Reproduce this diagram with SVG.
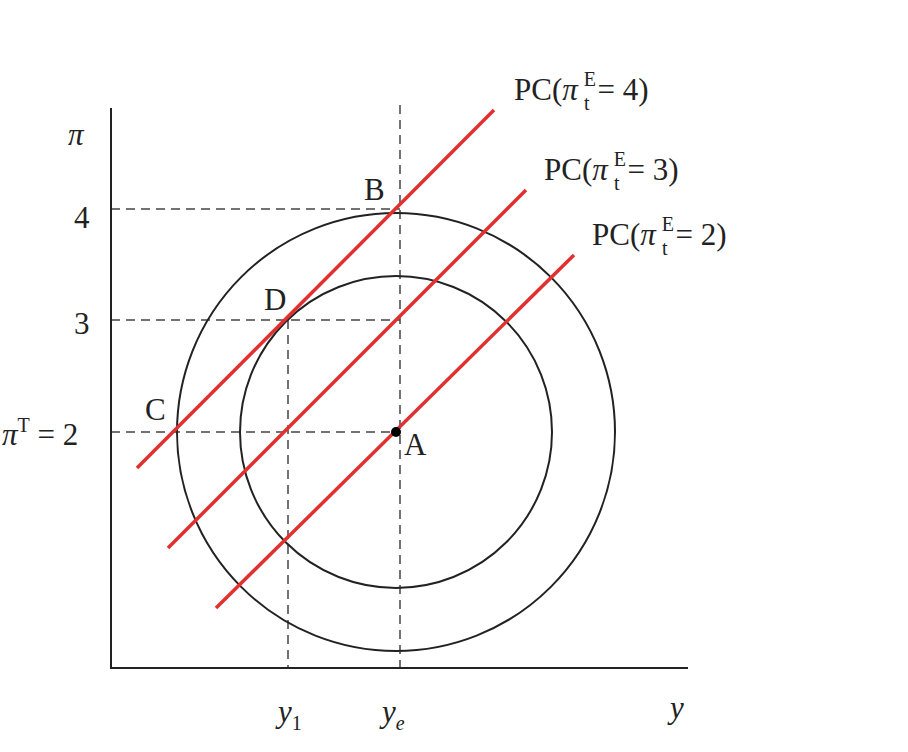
<svg xmlns="http://www.w3.org/2000/svg" width="908" height="752" viewBox="0 0 908 752">
<style>
text{font-family:"Liberation Serif",serif;fill:#222;font-size:31px}
.ax{stroke:#222;stroke-width:2;fill:none}
.d{stroke:#444;stroke-width:1.5;stroke-dasharray:9 6;fill:none}
.c{stroke:#222;stroke-width:2;fill:none}
.r{stroke:#e03030;stroke-width:3.5}
.s{font-size:20px}
.i{font-style:italic}
</style>
<rect width="908" height="752" fill="#fff"/>
<g id="guides">
<line class="d" x1="111" y1="209" x2="400" y2="209"/>
<line class="d" x1="111" y1="320" x2="400" y2="320"/>
<line class="d" x1="111" y1="432" x2="396" y2="432"/>
<line class="d" x1="400" y1="105" x2="400" y2="668"/>
<line class="d" x1="288" y1="320" x2="288" y2="668"/>
</g>
<g id="axes">
<polyline class="ax" points="111,108 111,668 688,668"/>
</g>
<g id="outer-circle"><circle class="c" cx="396" cy="432" r="219"/></g>
<g id="inner-circle"><circle class="c" cx="396" cy="432" r="156"/></g>
<g id="connectors">
<line class="r" x1="137" y1="468" x2="494" y2="110"/>
<line class="r" x1="168" y1="548" x2="526" y2="190"/>
<line class="r" x1="216" y1="608" x2="574" y2="255"/>
</g>
<g id="A"><circle cx="396" cy="432" r="5" fill="#000"/><text x="404" y="455">A</text></g>
<g id="B"><text x="364" y="200">B</text></g>
<g id="C"><text x="145" y="420">C</text></g>
<g id="D"><text x="264" y="310">D</text></g>
<g id="labels">
<text x="68" y="145" class="i">π</text>
<text x="74" y="228">4</text>
<text x="74" y="334">3</text>
<text x="2" y="445"><tspan class="i">π</tspan><tspan class="s" dy="-13">T</tspan><tspan dy="13"> = 2</tspan></text>
<text x="278" y="722" class="i" font-size="36">y<tspan class="s" font-size="26" dy="8" font-style="normal">1</tspan></text>
<text x="382" y="722" class="i" font-size="36">y<tspan class="s" font-size="26" dy="8">e</tspan></text>
<text x="670" y="718" class="i" font-size="34">y</text>
<text x="514" y="100">PC(<tspan class="i">π</tspan><tspan class="s" dx="6" dy="-14">E</tspan><tspan class="s" dx="-12" dy="24">t</tspan><tspan dx="8" dy="-10">= 4)</tspan></text>
<text x="544" y="180">PC(<tspan class="i">π</tspan><tspan class="s" dx="6" dy="-14">E</tspan><tspan class="s" dx="-12" dy="24">t</tspan><tspan dx="8" dy="-10">= 3)</tspan></text>
<text x="592" y="245">PC(<tspan class="i">π</tspan><tspan class="s" dx="6" dy="-14">E</tspan><tspan class="s" dx="-12" dy="24">t</tspan><tspan dx="8" dy="-10">= 2)</tspan></text>
</g>
</svg>
